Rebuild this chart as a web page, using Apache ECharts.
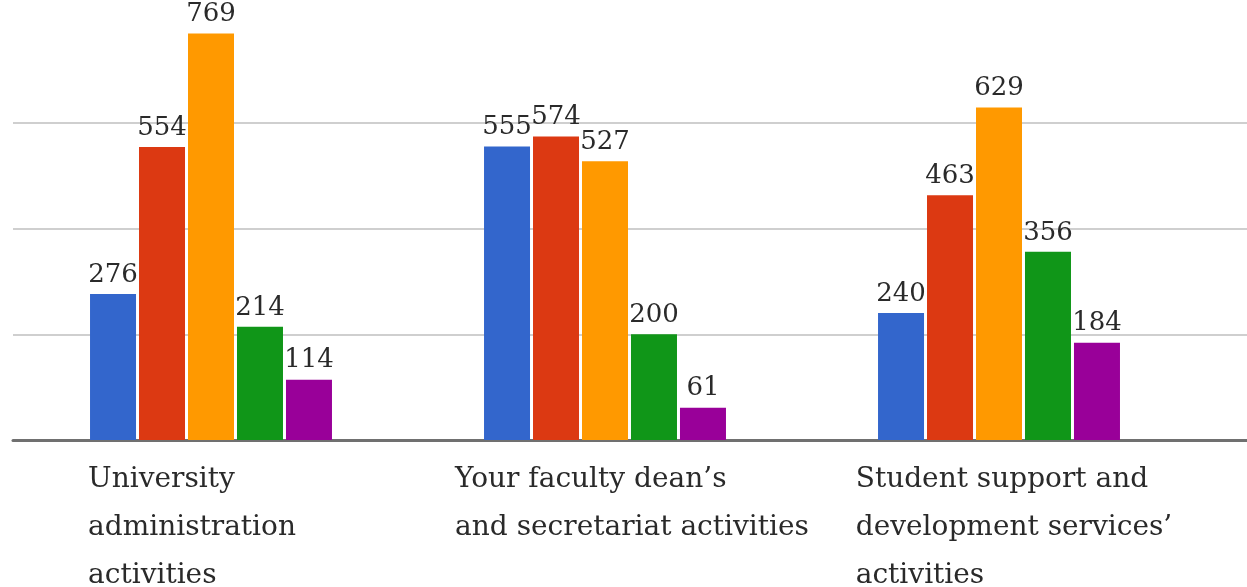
<!DOCTYPE html>
<html>
<head>
<meta charset="utf-8">
<script src="https://cdn.jsdelivr.net/npm/echarts@6/dist/echarts.min.js"></script>
<style>
html,body{margin:0;padding:0;background:#fff;}
#chart{width:1247px;height:587px;}
</style>
</head>
<body>
<div id="chart"></div>
<script>
// ---- data ----
const categories = [
  'University\nadministration\nactivities',
  'Your faculty dean\u2019s\nand secretariat activities',
  'Student support and\ndevelopment services\u2019\nactivities'
];
const series1 = [276, 555, 240];
const series2 = [554, 574, 463];
const series3 = [769, 527, 629];
const series4 = [214, 200, 356];
const series5 = [114, 61, 184];
const yTicks = [0, 200, 400, 600, 800];

// ---- layout / style ----
const colors = ['#3366CC', '#DC3912', '#FF9900', '#109618', '#990099'];
const labelShift = [-19, 27, 15];
const serif = '"DejaVu Serif", "Liberation Serif", serif';

const allSeries = [series1, series2, series3, series4, series5];

const chart = echarts.init(document.getElementById('chart'), null, {renderer: 'canvas'});

const yMin = yTicks[0], yMax = yTicks[yTicks.length - 1], yInt = yTicks[1] - yTicks[0];

const option = {
  animation: false,
  backgroundColor: '#ffffff',
  grid: [
    {left: 14, right: 51, top: 17, bottom: 147, containLabel: false, outerBoundsMode: 'none'},
    {left: 13, right: 0, top: 17, bottom: 147, containLabel: false, outerBoundsMode: 'none'}
  ],
  xAxis: [
    {
      type: 'category',
      gridIndex: 0,
      data: categories.map((c, i) => ({
        value: c,
        textStyle: {
          padding: labelShift[i] < 0 ? [0, -2 * labelShift[i], 0, 0] : [0, 0, 0, 2 * labelShift[i]]
        }
      })),
      axisLine: {show: false},
      axisTick: {show: false},
      axisLabel: {
        margin: 16,
        align: 'center',
        verticalAlign: 'top',
        formatter: v => v.split('\n').map(l => '{a|' + l + '}').join('\n'),
        rich: {
          a: {fontFamily: serif, fontSize: 28, lineHeight: 48, align: 'left', color: '#2a2a2a'}
        }
      },
      z: 5
    },
    {
      type: 'category',
      gridIndex: 1,
      data: [''],
      axisLine: {show: true, lineStyle: {color: '#707070', width: 3}},
      axisTick: {show: false},
      axisLabel: {show: false},
      z: 3
    }
  ],
  yAxis: [
    {
      type: 'value', gridIndex: 0, min: yMin, max: yMax, interval: yInt,
      axisLine: {show: false}, axisTick: {show: false}, axisLabel: {show: false},
      splitLine: {show: false}
    },
    {
      type: 'value', gridIndex: 1, min: yMin, max: yMax, interval: yInt,
      axisLine: {show: false}, axisTick: {show: false}, axisLabel: {show: false},
      splitLine: {show: true, showMaxLine: false, showMinLine: false, lineStyle: {color: '#cfcfcf', width: 2}}
    }
  ],
  series: allSeries.map((vals, i) => ({
    type: 'bar',
    xAxisIndex: 0,
    yAxisIndex: 0,
    data: vals,
    barWidth: 46,
    barGap: '6.5%',
    itemStyle: {color: colors[i]},
    z: 4,
    label: {
      show: true,
      position: 'top',
      distance: 6,
      fontFamily: serif,
      fontSize: 26,
      color: '#2a2a2a'
    }
  }))
};

chart.setOption(option);
</script>
</body>
</html>
